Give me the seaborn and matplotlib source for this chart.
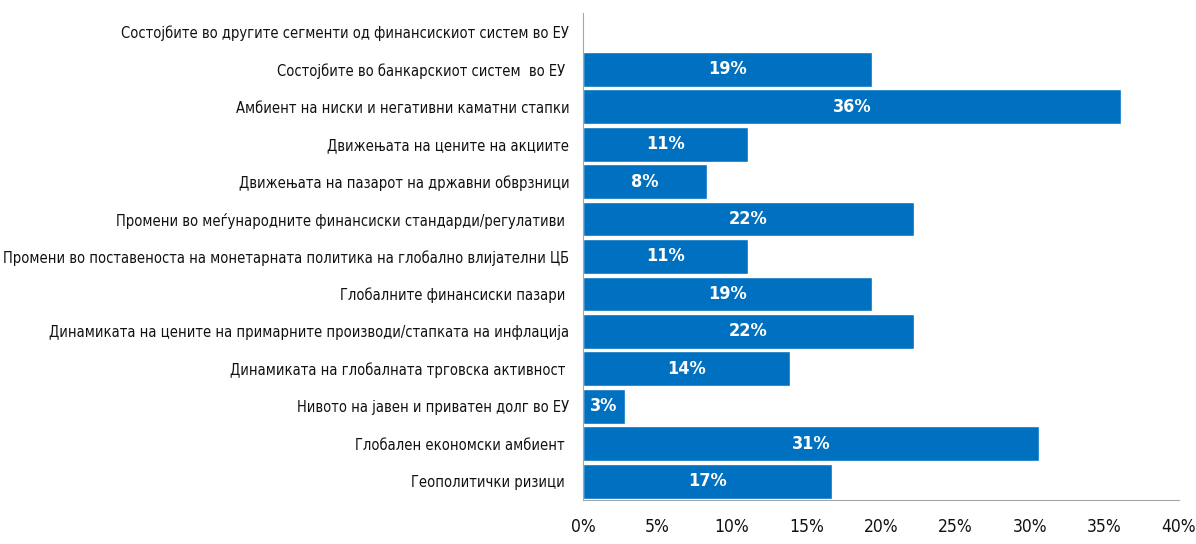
import numpy as np
import pandas as pd
import seaborn as sns
import matplotlib.pyplot as plt
from matplotlib.ticker import PercentFormatter, FixedLocator

# categories (top to bottom) and shares in percent
categories = [
    "Состојбите во другите сегменти од финансискиот систем во ЕУ",
    "Состојбите во банкарскиот систем  во ЕУ ",
    "Амбиент на ниски и негативни каматни стапки",
    "Движењата на цените на акциите",
    "Движењата на пазарот на државни обврзници",
    "Промени во меѓународните финансиски стандарди/регулативи ",
    "Промени во поставеноста на монетарната политика на глобално влијателни ЦБ",
    "Глобалните финансиски пазари ",
    "Динамиката на цените на примарните производи/стапката на инфлација",
    "Динамиката на глобалната трговска активност ",
    "Нивото на јавен и приватен долг во ЕУ",
    "Глобален економски амбиент ",
    "Геополитички ризици ",
]
shares = [0.0, 19.4, 36.1, 11.1, 8.3, 22.2, 11.1, 19.4, 22.2, 13.9, 2.8, 30.6, 16.7]
value_labels = ["", "19%", "36%", "11%", "8%", "22%", "11%", "19%", "22%", "14%", "3%", "31%", "17%"]

df = pd.DataFrame({"category": categories, "share": shares})

sns.set_style("white")
plt.rcParams['font.family'] = ['DejaVu Sans']
plt.rcParams['font.stretch'] = 'condensed'

fig = plt.figure(figsize=(11.96, 5.44), dpi=100)
ax = fig.add_axes([0.4875, 0.081, 0.4983, 0.895])

sns.barplot(data=df, x="share", y="category", color="#0070C0", saturation=1,
            width=0.93, ax=ax)

# white labels in the middle of each bar
for i, (v, lab) in enumerate(zip(shares, value_labels)):
    if lab:
        ax.text(v / 2, i, lab, ha="center", va="center", color="white",
                fontsize=13, fontweight="bold")

ax.set_xlim(0, 40)
ax.set_ylim(12.5, -0.5)
ax.set_xticks(np.arange(0, 41, 5))
ax.xaxis.set_major_formatter(PercentFormatter(decimals=0))
ax.set_xlabel("")
ax.set_ylabel("")

# tick marks between categories on the y axis
ax.yaxis.set_minor_locator(FixedLocator(np.arange(-0.5, 13, 1)))
ax.tick_params(axis="y", which="major", length=0, labelsize=10.5, pad=10, labelcolor="#111111")
ax.tick_params(axis="y", which="minor", length=5, color="#A6A6A6", width=1, direction="out")
ax.tick_params(axis="x", which="major", length=5, color="#A6A6A6", labelsize=12.5, pad=8,
               direction="out", labelcolor="#111111")

for side in ["top", "right"]:
    ax.spines[side].set_visible(False)
for side in ["left", "bottom"]:
    ax.spines[side].set_color("#A6A6A6")

plt.savefig("out.png", dpi=100)
plt.close()
